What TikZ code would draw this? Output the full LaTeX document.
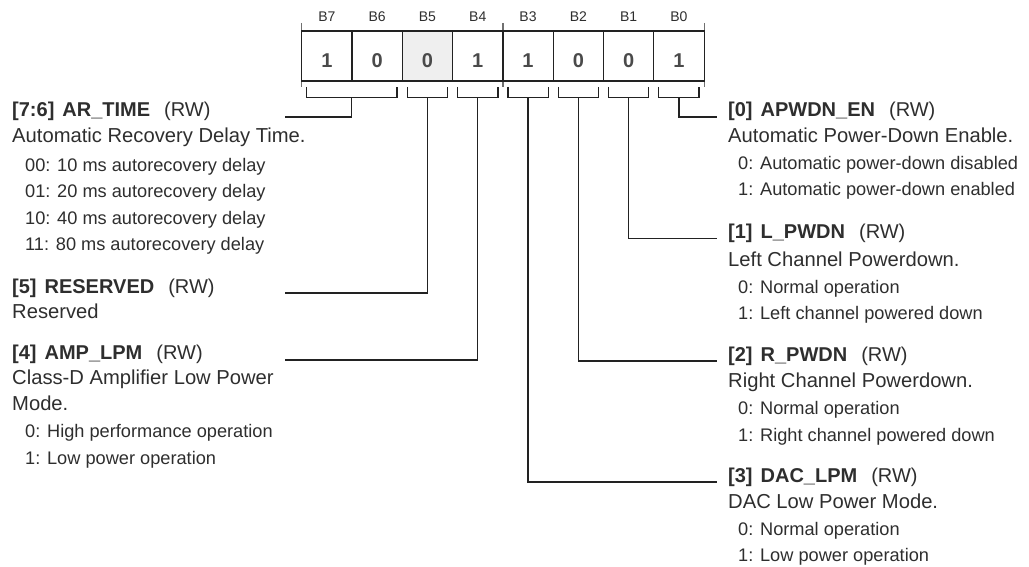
\documentclass[tikz,border=0pt]{standalone}
\usepackage{fontspec}
\setmainfont{Liberation Sans}
\definecolor{ink}{HTML}{2E2E2E}
\definecolor{linec}{HTML}{222222}
\definecolor{tickc}{HTML}{707070}
\definecolor{digitc}{HTML}{4A4A4A}
\definecolor{resfill}{HTML}{EFEFEF}
\newcommand{\fld}[2]{\textbf{[#1]}\hspace{0.4em}\textbf{#2}\hspace{0.7em}(RW)}
\tikzset{
  cellbox/.style={draw=linec, line width=1.2pt, minimum width=50.3pt, minimum height=50pt, inner sep=0pt, outer sep=0pt},
  digit/.style={anchor=base, inner sep=0pt, font=\fontsize{20}{24}\selectfont\bfseries, text=digitc},
  bitlbl/.style={anchor=base, inner sep=0pt, font=\fontsize{14}{16}\selectfont, text=ink},
  hdrtxt/.style={anchor=base west, inner sep=0pt, font=\fontsize{20}{24}\selectfont, text=ink},
  desctxt/.style={anchor=base west, inner sep=0pt, font=\fontsize{20.2}{24}\selectfont, text=ink},
  itemtxt/.style={anchor=base west, inner sep=0pt, font=\fontsize{18.2}{22}\selectfont, text=ink},
  brk/.style={draw=linec, line width=1.25pt},
  conn/.style={draw=linec, line width=1.25pt},
  tickln/.style={draw=tickc, line width=1.2pt},
}
\begin{document}
\begin{tikzpicture}[x=1pt,y=-1pt]
\useasboundingbox (0,0) rectangle (1029,567);
% ticks
\coordinate (tl1) at (301.7,23); \coordinate (tl2) at (301.7,87);
\coordinate (tm1) at (502.9,23); \coordinate (tm2) at (502.9,87);
\coordinate (tr1) at (704.1,23); \coordinate (tr2) at (704.1,87);
\draw[tickln] (tl1) -- (tl2);
\draw[tickln] (tm1) -- (tm2);
\draw[tickln] (tr1) -- (tr2);
% cells
\node[cellbox] (c7) at (326.85,56) {};
\node[cellbox] (c6) at (377.15,56) {};
\node[cellbox, fill=resfill] (c5) at (427.45,56) {};
\node[cellbox] (c4) at (477.75,56) {};
\node[cellbox] (c3) at (528.05,56) {};
\node[cellbox] (c2) at (578.35,56) {};
\node[cellbox] (c1) at (628.65,56) {};
\node[cellbox] (c0) at (678.95,56) {};
% bit labels
\node[bitlbl] (l7) at (326.85,21.5) {B7};
\node[bitlbl] (l6) at (377.15,21.5) {B6};
\node[bitlbl] (l5) at (427.45,21.5) {B5};
\node[bitlbl] (l4) at (477.75,21.5) {B4};
\node[bitlbl] (l3) at (528.05,21.5) {B3};
\node[bitlbl] (l2) at (578.35,21.5) {B2};
\node[bitlbl] (l1) at (628.65,21.5) {B1};
\node[bitlbl] (l0) at (678.95,21.5) {B0};
% digits
\node[digit] (d7) at (326.85,68) {1};
\node[digit] (d6) at (377.15,68) {0};
\node[digit] (d5) at (427.45,68) {0};
\node[digit] (d4) at (477.75,68) {1};
\node[digit] (d3) at (528.05,68) {1};
\node[digit] (d2) at (578.35,68) {0};
\node[digit] (d1) at (628.65,68) {0};
\node[digit] (d0) at (678.95,68) {1};
% brackets
\draw[brk] (306.7,87) |- (397.0,97.5) -- (397.0,87);
\draw[brk] (407.3,87) |- (447.6,97.5) -- (447.6,87);
\draw[brk] (457.6,87) |- (497.9,97.5) -- (497.9,87);
\draw[brk] (507.9,87) |- (548.2,97.5) -- (548.2,87);
\draw[brk] (558.2,87) |- (598.5,97.5) -- (598.5,87);
\draw[brk] (608.5,87) |- (648.8,97.5) -- (648.8,87);
\draw[brk] (658.8,87) |- (699.1,97.5) -- (699.1,87);
\coordinate (g76) at (351.85,97.5);
\coordinate (g5) at (427.45,97.5);
\coordinate (g4) at (477.75,97.5);
\coordinate (g3) at (528.05,97.5);
\coordinate (g2) at (578.35,97.5);
\coordinate (g1) at (628.65,97.5);
\coordinate (g0) at (678.95,97.5);
% connector ends
\coordinate (eAR) at (285,117);
\coordinate (eRES) at (285,293);
\coordinate (eAMP) at (285,360);
\coordinate (eAPW) at (717,117);
\coordinate (eLPW) at (717,238.5);
\coordinate (eRPW) at (717,361);
\coordinate (eDAC) at (717,482);
\draw[conn] (g76) |- (eAR);
\draw[conn] (g5) |- (eRES);
\draw[conn] (g4) |- (eAMP);
\draw[conn] (g0) |- (eAPW);
\draw[conn] (g1) |- (eLPW);
\draw[conn] (g2) |- (eRPW);
\draw[conn] (g3) |- (eDAC);
% left texts
\node[hdrtxt] (hAR) at (12,117) {\fld{7:6}{AR\_TIME}};
\node[desctxt] (dAR) at (12,143) {Automatic Recovery Delay Time.};
\node[itemtxt] (iAR0) at (25,172) {00: 10 ms autorecovery delay};
\node[itemtxt] (iAR1) at (25,198) {01: 20 ms autorecovery delay};
\node[itemtxt] (iAR2) at (25,225) {10: 40 ms autorecovery delay};
\node[itemtxt] (iAR3) at (25,251) {11: 80 ms autorecovery delay};
\node[hdrtxt] (hRES) at (12,293) {\fld{5}{RESERVED}};
\node[desctxt] (dRES) at (12,318) {Reserved};
\node[hdrtxt] (hAMP) at (12,359) {\fld{4}{AMP\_LPM}};
\node[desctxt] (dAMP1) at (12,384) {Class-D Amplifier Low Power};
\node[desctxt] (dAMP2) at (12,410) {Mode.};
\node[itemtxt] (iAMP0) at (25,437) {0: High performance operation};
\node[itemtxt] (iAMP1) at (25,464) {1: Low power operation};
% right texts
\node[hdrtxt] (hAPW) at (728,117) {\fld{0}{APWDN\_EN}};
\node[desctxt] (dAPW) at (728,143) {Automatic Power-Down Enable.};
\node[itemtxt] (iAPW0) at (738,170) {0: Automatic power-down disabled};
\node[itemtxt] (iAPW1) at (738,196) {1: Automatic power-down enabled};
\node[hdrtxt] (hLPW) at (728,239) {\fld{1}{L\_PWDN}};
\node[desctxt] (dLPW) at (728,266) {Left Channel Powerdown.};
\node[itemtxt] (iLPW0) at (738,293) {0: Normal operation};
\node[itemtxt] (iLPW1) at (738,319) {1: Left channel powered down};
\node[hdrtxt] (hRPW) at (728,361) {\fld{2}{R\_PWDN}};
\node[desctxt] (dRPW) at (728,387) {Right Channel Powerdown.};
\node[itemtxt] (iRPW0) at (738,414) {0: Normal operation};
\node[itemtxt] (iRPW1) at (738,441) {1: Right channel powered down};
\node[hdrtxt] (hDAC) at (728,482) {\fld{3}{DAC\_LPM}};
\node[desctxt] (dDAC) at (728,508) {DAC Low Power Mode.};
\node[itemtxt] (iDAC0) at (738,535) {0: Normal operation};
\node[itemtxt] (iDAC1) at (738,561) {1: Low power operation};
\end{tikzpicture}
\end{document}
